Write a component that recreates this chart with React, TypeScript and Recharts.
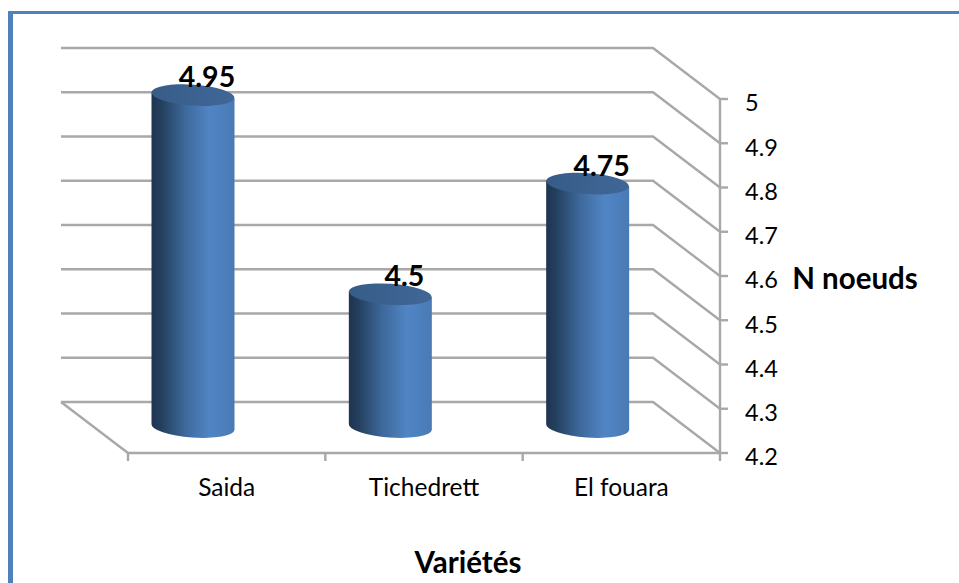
import { BarChart, Bar, XAxis, YAxis, CartesianGrid, LabelList } from 'recharts';

const varietes = ['Saida', 'Tichedrett', 'El fouara'];
const noeuds = [4.95, 4.5, 4.75];
const yTicks = [4.2, 4.3, 4.4, 4.5, 4.6, 4.7, 4.8, 4.9, 5];

const chartData = varietes.map((name, i) => ({ name, value: noeuds[i] }));

const WIDTH = 959;
const HEIGHT = 583;
const PLOT_LEFT = 128;
const PLOT_RIGHT = 720;
const FONT = 'Lato, "Open Sans", sans-serif';
const GRID_COLOR = '#a8a8a8';
const BLUE = '#4f81bd';
const LINE_WIDTH = 2.4;

// fake 3D depth: the back wall sits up and to the left of the front plane
const DEPTH_X = 67;
const DEPTH_Y = 51;
const BAR_SHIFT_X = -33.5;
const BAR_SHIFT_Y = -26;
const BAND = (PLOT_RIGHT - PLOT_LEFT) / varietes.length;

function WallLine(props: any) {
  const { x1, x2, y1, index } = props;
  const backY = y1 - DEPTH_Y;
  const bend = x2 - DEPTH_X;
  const d = `M${x1 - DEPTH_X} ${backY} L${bend} ${backY} L${x2} ${y1}`;
  // the lowest line also closes the floor on the left side
  const isFloor = index === 0 || y1 > 440;
  return (
    <g key={`wall-${index}`}>
      <path d={d} fill="none" stroke={GRID_COLOR} strokeWidth={LINE_WIDTH} />
      {isFloor && (
        <path
          d={`M${x1 - DEPTH_X} ${backY} L${x1} ${y1}`}
          fill="none"
          stroke={GRID_COLOR}
          strokeWidth={LINE_WIDTH}
        />
      )}
    </g>
  );
}

function Cylinder(props: any) {
  const { x, y, width, height } = props;
  const left = x + BAR_SHIFT_X;
  const right = left + width;
  const cx = left + width / 2;
  const top = y + BAR_SHIFT_Y;
  const bottom = top + height;
  const rx = width / 2;
  const ry = 10.5;
  const tilt = 4;
  const lean = 3;
  const body =
    `M${left} ${top - lean} L${left} ${bottom - lean} ` +
    `A${rx} ${ry} ${tilt} 0 0 ${right} ${bottom + lean} ` +
    `L${right} ${top + lean} Z`;
  return (
    <g>
      <path d={body} fill="url(#cylBody)" />
      <ellipse
        cx={cx}
        cy={top}
        rx={rx}
        ry={ry}
        fill="url(#cylTop)"
        transform={`rotate(${tilt} ${cx} ${top})`}
      />
    </g>
  );
}

function ValueLabel(props: any) {
  const { x, width, y, value } = props;
  return (
    <text
      x={x + width / 2 + BAR_SHIFT_X + 14}
      y={y + BAR_SHIFT_Y - 8}
      textAnchor="middle"
      fontFamily={FONT}
      fontWeight={700}
      fontSize={28.5}
      fill="#000"
    >
      {value}
    </text>
  );
}

function CategoryTick(props: any) {
  const { x, y, payload, index } = props;
  const edge = x - BAND / 2;
  return (
    <g>
      <line x1={edge} x2={edge} y1={453} y2={461} stroke={GRID_COLOR} strokeWidth={LINE_WIDTH} />
      {index === varietes.length - 1 && (
        <line x1={x + BAND / 2} x2={x + BAND / 2} y1={453} y2={461} stroke={GRID_COLOR} strokeWidth={LINE_WIDTH} />
      )}
      <text x={x} y={y + 35} textAnchor="middle" fontFamily={FONT} fontSize={24.5} fill="#000">
        {payload.value}
      </text>
    </g>
  );
}

export default function App() {
  return (
    <div style={{ position: 'absolute', left: 0, top: 0, width: WIDTH, height: HEIGHT, background: '#fff', overflow: 'hidden' }}>
      <div
        style={{
          position: 'absolute',
          left: 8,
          top: 11,
          right: 0,
          bottom: 0,
          borderLeft: `5px solid ${BLUE}`,
          borderTop: `3px solid ${BLUE}`,
        }}
      />
      <div style={{ position: 'absolute', left: 0, top: 0 }}>
        <BarChart
          width={WIDTH}
          height={HEIGHT}
          data={chartData}
          margin={{ top: 99, right: 179, bottom: 90, left: PLOT_LEFT }}
        >
          <defs>
            <linearGradient id="cylBody" x1="0" y1="0" x2="1" y2="0">
              <stop offset="0" stopColor="#1f344f" />
              <stop offset="0.12" stopColor="#24405f" />
              <stop offset="0.4" stopColor="#3d689a" />
              <stop offset="0.7" stopColor="#5085c4" />
              <stop offset="1" stopColor="#4a7ab5" />
            </linearGradient>
            <linearGradient id="cylTop" x1="0" y1="0" x2="1" y2="0">
              <stop offset="0" stopColor="#375c88" />
              <stop offset="1" stopColor="#3f6797" />
            </linearGradient>
          </defs>
          <CartesianGrid vertical={false} horizontal={WallLine as any} />
          <XAxis
            dataKey="name"
            height={40}
            axisLine={{ stroke: GRID_COLOR, strokeWidth: LINE_WIDTH }}
            tickLine={false}
            tick={CategoryTick as any}
            interval={0}
          />
          <YAxis
            orientation="right"
            width={60}
            domain={[4.2, 5]}
            ticks={yTicks}
            interval={0}
            axisLine={{ stroke: GRID_COLOR, strokeWidth: LINE_WIDTH }}
            tickLine={{ stroke: GRID_COLOR, strokeWidth: LINE_WIDTH }}
            tickSize={8}
            tickMargin={17}
            tick={{ fontFamily: FONT, fontSize: 23.5, fill: '#000', dy: 4 }}
          />
          <Bar dataKey="value" barSize={83} shape={Cylinder as any} isAnimationActive={false}>
            <LabelList dataKey="value" content={ValueLabel as any} />
          </Bar>
          <text x={855} y={289} textAnchor="middle" fontFamily={FONT} fontWeight={700} fontSize={29.5} fill="#000">
            N noeuds
          </text>
          <text x={468} y={573} textAnchor="middle" fontFamily={FONT} fontWeight={700} fontSize={29.5} fill="#000">
            Variétés
          </text>
        </BarChart>
      </div>
    </div>
  );
}
